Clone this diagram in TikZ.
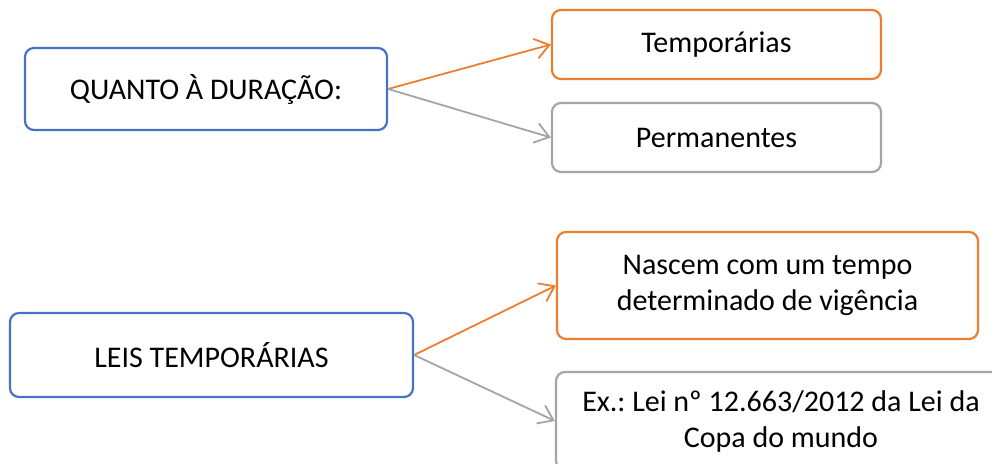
\documentclass[tikz,border=0pt]{standalone}
\usepackage{fontspec}
\setmainfont{Carlito}
\usetikzlibrary{arrows.meta}
\frenchspacing

\definecolor{boxblue}{HTML}{4472C4}
\definecolor{boxorange}{HTML}{ED7D31}
\definecolor{boxgray}{HTML}{A5A5A5}

\begin{document}
\begin{tikzpicture}[x = 1pt, y = -1pt,
  box/.style = {draw, line width = 2.2pt, rounded corners = 9pt, inner sep = 0pt, align = center, text = black, font = \fontsize{30}{36}\selectfont},
  conn/.style = {line width = 1.8pt, -{Straight Barb[length = 14pt, width = 20pt]}}]
\useasboundingbox (0,0) rectangle (992,463);
\clip (0,0) rectangle (992,463);
%quanto a duracao
\node[box, draw = boxblue, minimum width = 362, minimum height = 82] (dur) at (206,89) {QUANTO À DURAÇÃO:};
\node[box, draw = boxorange, minimum width = 329, minimum height = 69] (temp) at (716.5,44.5) {Temporárias};
\node[box, draw = boxgray, minimum width = 329, minimum height = 69] (perm) at (716.5,137.5) {Permanentes};
\draw[conn, boxorange] (dur.east) -- (temp.west);
\draw[conn, boxgray] (dur.east) -- (perm.west);
%leis temporarias
\node[box, draw = boxblue, minimum width = 403, minimum height = 84] (leis) at (211.5,355) {LEIS TEMPORÁRIAS};
\node[box, draw = boxorange, minimum width = 421, minimum height = 107] (nasc) at (767.5,285.5) {Nascem com um tempo\\determinado de vigência};
\node[box, draw = boxgray, minimum width = 450, minimum height = 98] (ex) at (781,421) {Ex.: Lei nº 12.663/2012 da Lei da\\Copa do mundo};
\draw[conn, boxorange] (leis.east) -- (nasc.west);
\draw[conn, boxgray] (leis.east) -- (ex.west);
\end{tikzpicture}
\end{document}
